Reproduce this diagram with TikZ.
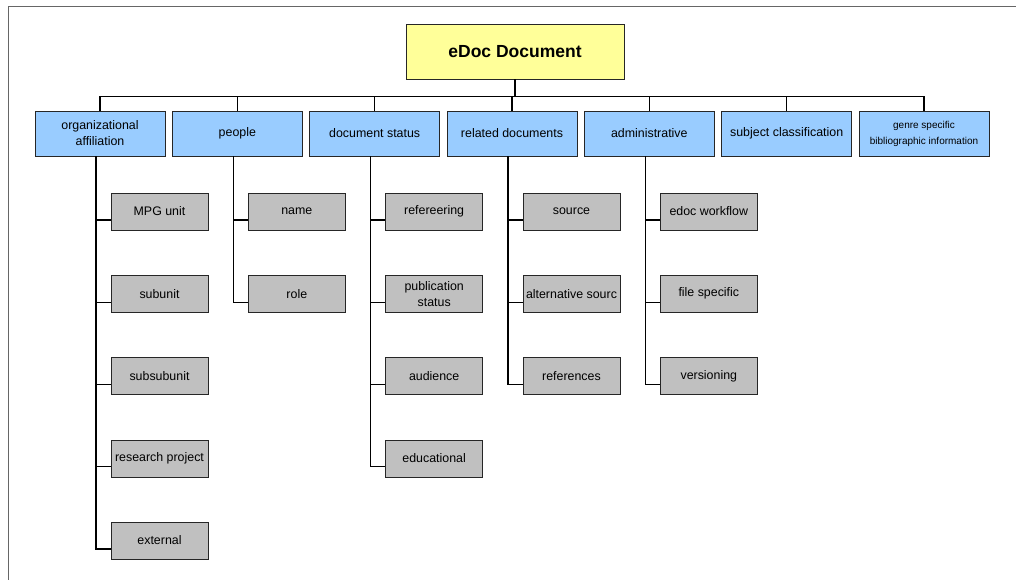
\documentclass[tikz,border=0pt]{standalone}
\usepackage{fontspec}
\setmainfont{Liberation Sans}
\usepackage{tikz}
\usetikzlibrary{positioning}

\definecolor{rootyellow}{HTML}{FFFF99}
\definecolor{catblue}{HTML}{99CCFF}
\definecolor{leafgray}{HTML}{C0C0C0}
\newcommand\genrefont{\fontsize{10}{13.5}\selectfont}

\begin{document}
\begin{tikzpicture}[x=1pt,y=-1pt,
root/.style={draw=black!85,fill=rootyellow,minimum width=218pt,minimum height=55pt,
    font=\bfseries\fontsize{17.5}{20}\selectfont},
cat/.style={draw=black!85,fill=catblue,minimum width=130pt,minimum height=45pt,
    align=center,inner sep=1pt,font=\fontsize{12.4}{16}\selectfont},
leaf/.style={draw=black!85,fill=leafgray,minimum width=97pt,minimum height=37pt,
    align=center,inner sep=1pt,font=\fontsize{12.4}{16}\selectfont},
link/.style={line width=1.3pt}]

\useasboundingbox (0,0) rectangle (1016,580);
\draw[gray!80!black,line width=1pt] (8,580) -- (8,7) -- (1016,7);

\node[root] (doc) at (515,51.5) {eDoc Document};

% first level
\foreach \lbl [count=\ci] in {{organizational\\affiliation},people,document status,
    related documents,administrative,subject classification,
    {\genrefont genre specific\\\genrefont bibliographic information}}
{
\node[cat] (cat-\ci) at ({100+137.33*(\ci-1)},133.5) {\lbl};
\draw[link] (cat-\ci.north) -- ++(0,-14.5) -| (doc.south);
}

% second level
\foreach \ci/\leaves in {1/{MPG unit,subunit,subsubunit,research project,external},
    2/{name,role},
    3/{refereering,{publication\\status},audience,educational},
    4/{source,alternative sourc,references},
    5/{edoc workflow,file specific,versioning}}
{\foreach \lbl [count=\li] in \leaves
    {
    \node[leaf] (leaf-\ci-\li) at ({159.5+137.33*(\ci-1)},{211.5+82.25*(\li-1)}) {\lbl};
    \draw[link] ([xshift=-4pt]cat-\ci.south) |- ([yshift=-8.5pt]leaf-\ci-\li.west);
    }
}
\end{tikzpicture}
\end{document}
